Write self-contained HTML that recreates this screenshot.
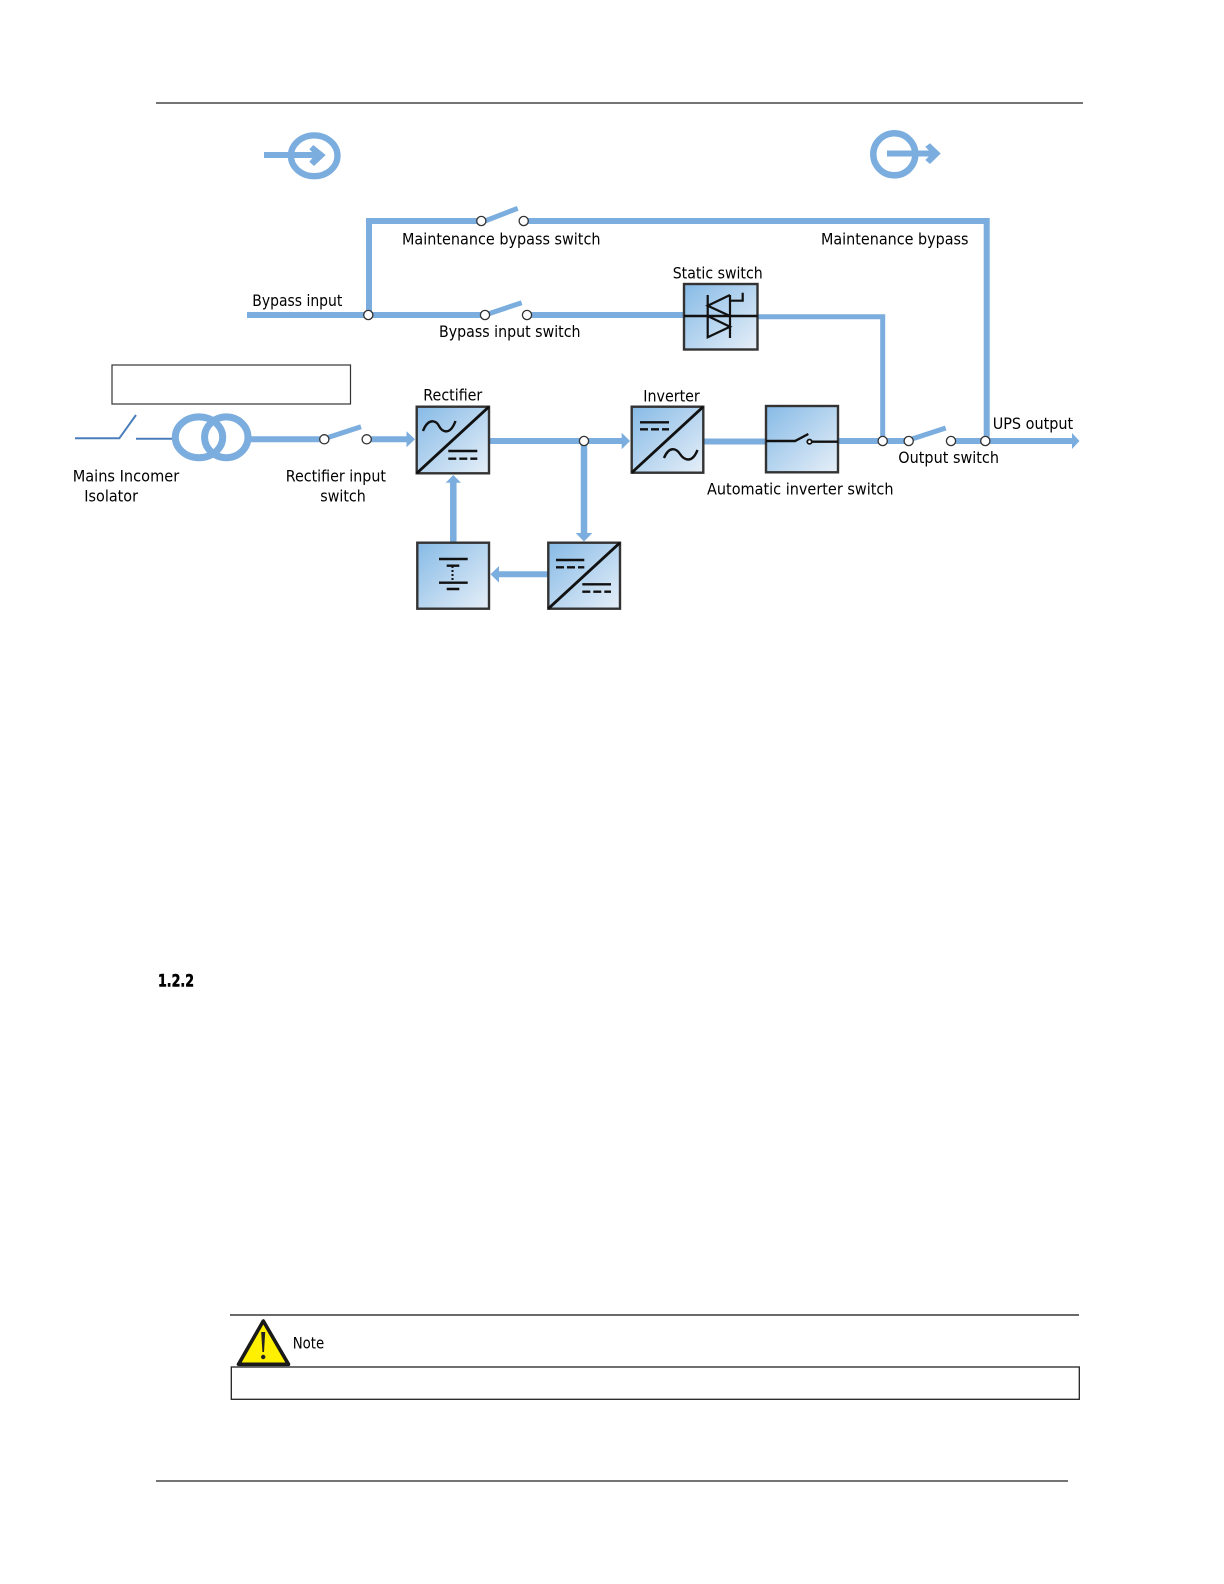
<!DOCTYPE html>
<html><head><meta charset="utf-8"><style>
html,body{margin:0;padding:0;background:#fff;width:1224px;height:1584px;overflow:hidden}
svg{display:block}
text{font-family:"DejaVu Sans","Liberation Sans",sans-serif;font-size:16px;fill:#000}
.w{fill:none;stroke:#7badde}
.a{fill:#7badde;stroke:none}
.c{fill:#fff;stroke:#333;stroke-width:1.3}
.b{stroke:#333;stroke-width:2.4}
.k{fill:none;stroke:#111}
</style></head><body>
<svg width="1224" height="1584" viewBox="0 0 1224 1584" xmlns="http://www.w3.org/2000/svg">
<defs><linearGradient id="g" x1="0" y1="0" x2="1" y2="1"><stop offset="0" stop-color="#86bae6"/><stop offset="1" stop-color="#e6eff8"/></linearGradient></defs>
<line x1="156" y1="103" x2="1083" y2="103" stroke="#222" stroke-width="1.2"/>
<line x1="156" y1="1481" x2="1068" y2="1481" stroke="#222" stroke-width="1.2"/>

<!-- legend -->
<ellipse cx="314.2" cy="155.8" rx="23.3" ry="20.4" class="w" stroke-width="6.3"/>
<line x1="264" y1="155" x2="316" y2="155" class="w" stroke-width="6"/>
<polygon class="a" points="313.3,145 325.7,155 314,166 309.3,161.7 315,155 309.3,149.3"/>
<circle cx="894.3" cy="154.3" r="21" class="w" stroke-width="6.5"/>
<line x1="887" y1="153.5" x2="934" y2="153.5" class="w" stroke-width="6"/>
<polygon class="a" points="930,143.3 940.7,153.5 930,164 925.3,160 931.7,153.5 925.3,146.7"/>

<!-- bypass wires -->
<path d="M369 315V221H481" class="w" stroke-width="6"/>
<path d="M524 221H986.7V441" class="w" stroke-width="6"/>
<line x1="247" y1="315" x2="485" y2="315" class="w" stroke-width="6"/>
<line x1="527" y1="315" x2="684" y2="315" class="w" stroke-width="6"/>
<path d="M757 316.7H882.7V441" class="w" stroke-width="5"/>
<line x1="485" y1="221" x2="517.7" y2="208.3" class="w" stroke-width="5"/>
<line x1="488" y1="314" x2="521.7" y2="302.7" class="w" stroke-width="5"/>

<!-- main wires -->
<line x1="250" y1="439.3" x2="320" y2="439.3" class="w" stroke-width="6"/>
<line x1="328" y1="437.5" x2="361" y2="426.7" class="w" stroke-width="5"/>
<line x1="367" y1="439.3" x2="408" y2="439.3" class="w" stroke-width="6"/>
<polygon class="a" points="406.5,431.3 415,439.3 406.5,447.3"/>
<line x1="489" y1="441" x2="623" y2="441" class="w" stroke-width="6"/>
<polygon class="a" points="621.7,432.7 630,441 621.7,449.3"/>
<line x1="703" y1="441.5" x2="766" y2="441.5" class="w" stroke-width="6"/>
<line x1="838" y1="441" x2="908" y2="441" class="w" stroke-width="6"/>
<line x1="912" y1="439" x2="945.7" y2="428" class="w" stroke-width="5"/>
<line x1="951" y1="441" x2="1072" y2="441" class="w" stroke-width="6"/>
<polygon class="a" points="1072,433 1079.5,441 1072,449"/>
<line x1="584" y1="441" x2="584" y2="535" class="w" stroke-width="6.5"/>
<polygon class="a" points="575.7,533 592.3,533 584,541.5"/>
<line x1="548" y1="574.3" x2="497" y2="574.3" class="w" stroke-width="6"/>
<polygon class="a" points="499,566 499,582.6 490.5,574.3"/>
<line x1="453.3" y1="543" x2="453.3" y2="481" class="w" stroke-width="6.5"/>
<polygon class="a" points="445.7,482.7 461,482.7 453.3,475"/>

<!-- isolator + transformer -->
<path d="M75 438.3H119.3L136 415" fill="none" stroke="#4a7ebb" stroke-width="2"/>
<line x1="136" y1="438.7" x2="174" y2="438.7" stroke="#4a7ebb" stroke-width="2"/>
<ellipse cx="199" cy="437.3" rx="23.7" ry="20.4" class="w" stroke-width="7"/>
<ellipse cx="226.3" cy="437.3" rx="21.7" ry="20.4" class="w" stroke-width="7"/>

<!-- empty boxes -->
<rect x="112" y="365" width="238.5" height="39" fill="#fff" stroke="#333" stroke-width="1.2"/>

<!-- static switch -->
<rect x="684" y="284" width="73.5" height="65.5" fill="url(#g)" class="b"/>
<line x1="684" y1="316" x2="757.5" y2="316" class="k" stroke-width="2.4"/>
<path d="M707.7 295V337.3L730 326.7 707.7 316M730 316V338M730 295V316L707.7 305.7 730 295M730 300.7H742.7V292.7" class="k" stroke-width="2.2"/>

<!-- rectifier -->
<rect x="416.7" y="406.7" width="72.3" height="66.6" fill="url(#g)" class="b"/>
<line x1="416.7" y1="473.3" x2="489" y2="406.7" class="k" stroke-width="2.8"/>
<path d="M423 431C428 418 436 420 439 426S450 436 455.5 421" class="k" stroke-width="2.4"/>
<path d="M448.3 451H477.3" class="k" stroke-width="2.4"/><path d="M448.3 458.7H477.3" class="k" stroke-width="2.4" stroke-dasharray="8 3"/>

<!-- inverter -->
<rect x="631.7" y="406.7" width="71.6" height="66" fill="url(#g)" class="b"/>
<line x1="631.7" y1="472.7" x2="703.3" y2="406.7" class="k" stroke-width="2.8"/>
<path d="M640 422.3H669" class="k" stroke-width="2.4"/><path d="M640 429.3H669" class="k" stroke-width="2.4" stroke-dasharray="8 3"/>
<path d="M664 458C669 446 676 448 680 454S692 464 697.5 450" class="k" stroke-width="2.4"/>

<!-- auto switch -->
<rect x="766" y="406" width="72" height="66.3" fill="url(#g)" class="b"/>
<path d="M766 441H795L808.3 434M812 441.7H838" class="k" stroke-width="2.4"/>
<circle cx="809.5" cy="441.7" r="2.2" fill="#fff" stroke="#111" stroke-width="1.8"/>

<!-- DC/DC -->
<rect x="548.3" y="542.7" width="71.7" height="66" fill="url(#g)" class="b"/>
<line x1="548.3" y1="608.7" x2="620" y2="542.7" class="k" stroke-width="2.8"/>
<path d="M556 560H584.3M582.3 584.3H611" class="k" stroke-width="2.4"/>
<path d="M556 567.3H584.3M582.3 591.7H611" class="k" stroke-width="2.4" stroke-dasharray="8 3"/>

<!-- battery -->
<rect x="417.3" y="542.7" width="71.7" height="66" fill="url(#g)" class="b"/>
<path d="M439 559H467.7M446.7 565.7H459.3M439 582.7H467.7M446.7 589H459.3" class="k" stroke-width="2.4"/>
<line x1="452.5" y1="566" x2="452.5" y2="582" class="k" stroke-width="2" stroke-dasharray="2 2"/>

<!-- nodes -->
<circle class="c" cx="481.3" cy="221" r="4.6"/><circle class="c" cx="523.7" cy="221" r="4.6"/>
<circle class="c" cx="368.3" cy="315" r="4.6"/><circle class="c" cx="485" cy="315" r="4.6"/><circle class="c" cx="527" cy="315" r="4.6"/>
<circle class="c" cx="324.3" cy="439.3" r="4.6"/><circle class="c" cx="366.7" cy="439.3" r="4.6"/>
<circle class="c" cx="584" cy="441" r="4.6"/><circle class="c" cx="882.7" cy="441" r="4.6"/>
<circle class="c" cx="908.7" cy="441" r="4.6"/><circle class="c" cx="951" cy="441" r="4.6"/><circle class="c" cx="985.3" cy="441" r="4.6"/>

<!-- labels -->
<text x="402" y="244.5" textLength="198.5" lengthAdjust="spacingAndGlyphs">Maintenance bypass switch</text>
<text x="821" y="244.5" textLength="147.5" lengthAdjust="spacingAndGlyphs">Maintenance bypass</text>
<text x="672.7" y="278.5" textLength="90" lengthAdjust="spacingAndGlyphs">Static switch</text>
<text x="252.3" y="306" textLength="90" lengthAdjust="spacingAndGlyphs">Bypass input</text>
<text x="439" y="337" textLength="141.5" lengthAdjust="spacingAndGlyphs">Bypass input switch</text>
<text x="423.3" y="400.7" textLength="59" lengthAdjust="spacingAndGlyphs">Rectifier</text>
<text x="643.3" y="401.7" textLength="56.5" lengthAdjust="spacingAndGlyphs">Inverter</text>
<text x="992.7" y="429" textLength="80.5" lengthAdjust="spacingAndGlyphs">UPS output</text>
<text x="898.3" y="463" textLength="100.7" lengthAdjust="spacingAndGlyphs">Output switch</text>
<text x="707" y="494.3" textLength="186.5" lengthAdjust="spacingAndGlyphs">Automatic inverter switch</text>
<text x="72.7" y="481.7" textLength="106.5" lengthAdjust="spacingAndGlyphs">Mains Incomer</text>
<text x="84.3" y="501.7" textLength="53.7" lengthAdjust="spacingAndGlyphs">Isolator</text>
<text x="285.7" y="481.7" textLength="100.3" lengthAdjust="spacingAndGlyphs">Rectifier input</text>
<text x="320.3" y="501.7" textLength="45.5" lengthAdjust="spacingAndGlyphs">switch</text>

<text x="158" y="986.7" textLength="36" lengthAdjust="spacingAndGlyphs" style="font-weight:bold;font-size:17px;stroke:#000;stroke-width:.6">1.2.2</text>

<!-- note -->
<line x1="230" y1="1315" x2="1079" y2="1315" stroke="#111" stroke-width="1.3"/>
<polygon points="263.3,1321 238.5,1364.3 288.5,1364.3" fill="#ffef00" stroke="#1a1a1a" stroke-width="3.6" stroke-linejoin="round"/>
<path d="M261.2 1332h4l-1.2 20h-1.6z" fill="#222"/>
<circle cx="263.2" cy="1357" r="2.2" fill="#222"/>
<text x="292.7" y="1348.3" textLength="31.5" lengthAdjust="spacingAndGlyphs">Note</text>
<rect x="231.3" y="1367" width="848" height="32.3" fill="#fff" stroke="#222" stroke-width="1.3"/>
</svg>
</body></html>
